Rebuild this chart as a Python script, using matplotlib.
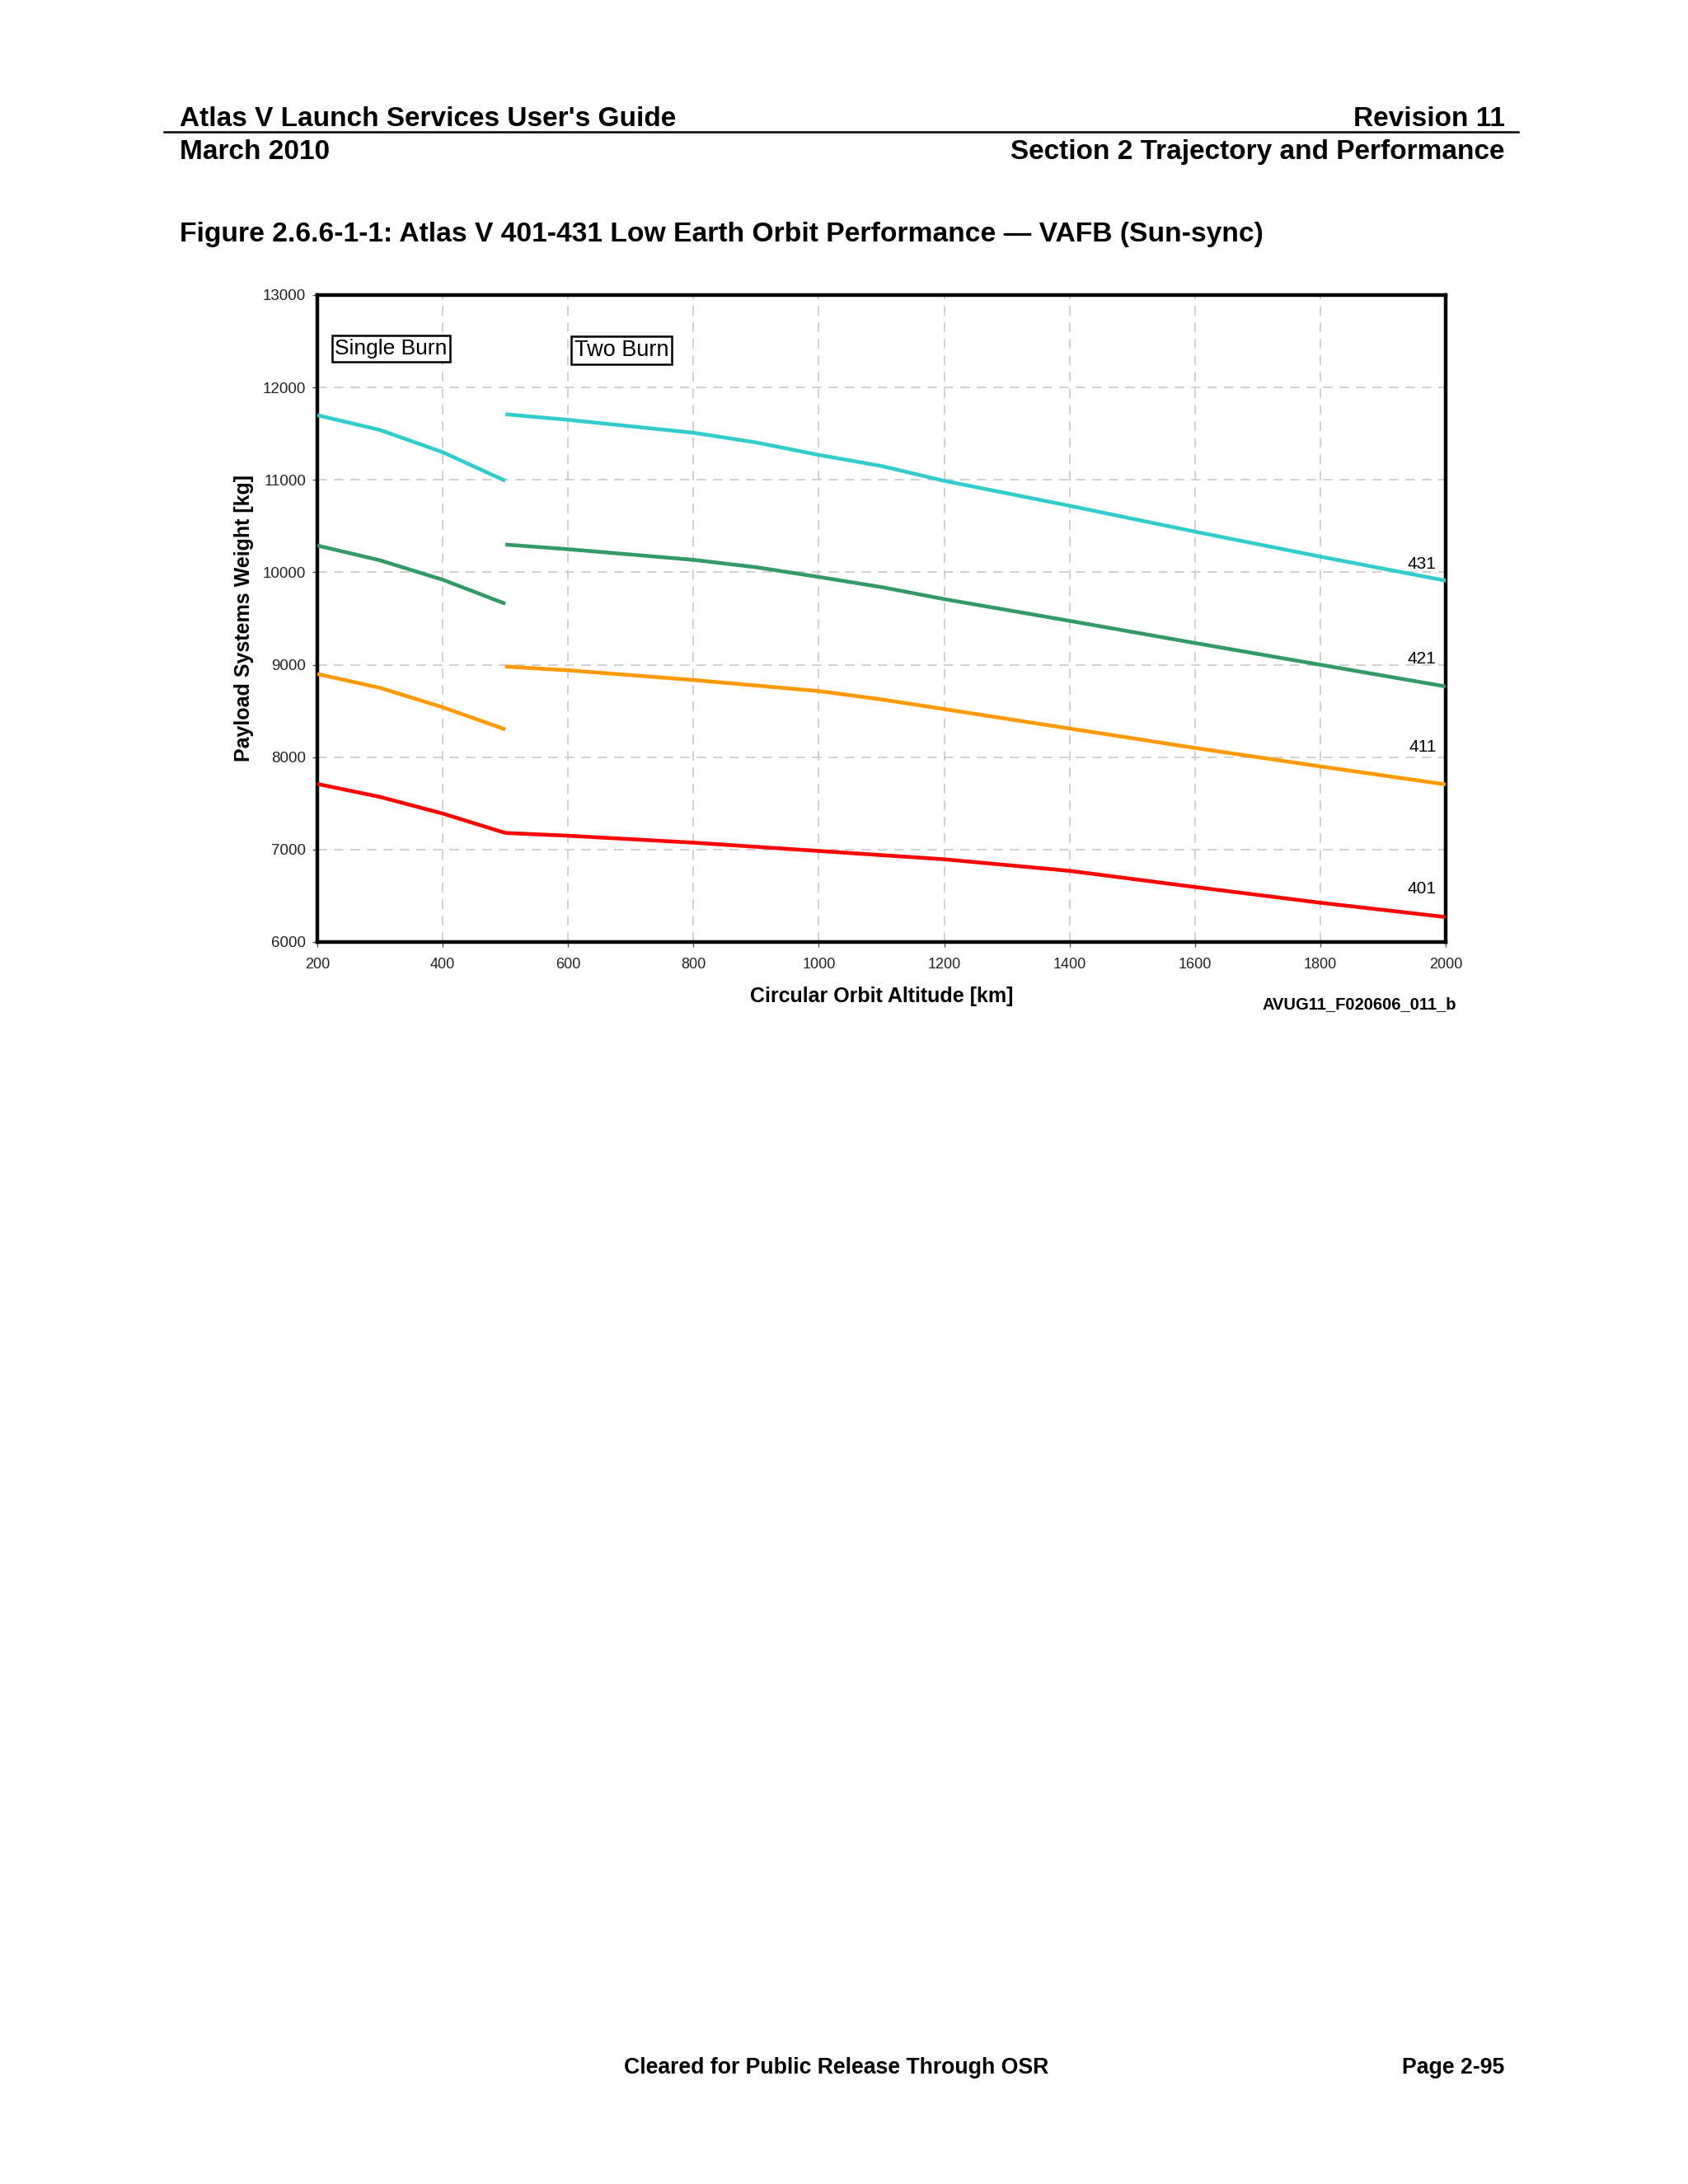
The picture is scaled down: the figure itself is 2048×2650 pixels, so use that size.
import matplotlib
matplotlib.use('Agg')
from matplotlib import pyplot as plt

plt.rcParams['font.family'] = ['Liberation Sans', 'DejaVu Sans']

# Single burn (200-500 km)
alt_single = [200, 300, 400, 500]
single_431 = [11700, 11540, 11300, 10990]
single_421 = [10290, 10130, 9920, 9660]
single_411 = [8900, 8750, 8540, 8300]
single_401 = [7710, 7570, 7390, 7180]

# Two burn (500-2000 km)
alt_two = [500, 600, 800, 900, 1000, 1100, 1200, 1400, 1600, 1800, 2000]
two_431 = [11710, 11650, 11510, 11405, 11270, 11150, 10990, 10720, 10440, 10170, 9910]
two_421 = [10300, 10250, 10135, 10055, 9950, 9840, 9710, 9475, 9235, 9000, 8765]
two_411 = [8980, 8940, 8835, 8775, 8715, 8625, 8520, 8310, 8100, 7900, 7705]
two_401 = [7180, 7150, 7075, 7030, 6985, 6940, 6895, 6770, 6595, 6425, 6270]

series = ['431', '421', '411', '401']
colors = {'431': '#33CCCC', '421': '#339966', '411': '#FF9900', '401': '#FF0000'}
single = {'431': single_431, '421': single_421, '411': single_411, '401': single_401}
two = {'431': two_431, '421': two_421, '411': two_411, '401': two_401}
label_y = {'431': 10085, '421': 9060, '411': 8105, '401': 6575}

W, H = 2048, 2650
fig = plt.figure(figsize=(W / 100, H / 100), dpi=100)
fig.patch.set_facecolor('white')

def fx(px):
    return px / W

def fy(py):
    return 1 - py / H

# page header
hdr = dict(fontsize=24, fontweight='bold', va='baseline')
fig.text(fx(218), fy(153), "Atlas V Launch Services User's Guide", ha='left', **hdr)
fig.text(fx(1826), fy(153), "Revision 11", ha='right', **hdr)
fig.text(fx(218), fy(193), "March 2010", ha='left', **hdr)
fig.text(fx(1826), fy(193), "Section 2 Trajectory and Performance", ha='right', **hdr)
fig.add_artist(plt.Line2D([fx(199), fx(1842)], [fy(160), fy(160)], color='black', lw=1.8))
fig.text(fx(218), fy(293),
         "Figure 2.6.6-1-1: Atlas V 401-431 Low Earth Orbit Performance \u2014 VAFB (Sun-sync)",
         ha='left', fontsize=24.2, fontweight='bold', va='baseline')

# chart
ax = fig.add_axes([fx(385), fy(1143), fx(1754) - fx(385), fy(358) - fy(1143)])
ax.set_xlim(200, 2000)
ax.set_ylim(6000, 13000)
ax.set_xticks(range(200, 2001, 200))
ax.set_yticks(range(6000, 13001, 1000))
ax.grid(True, color='#c8c8c8', lw=1.2, linestyle=(0, (7, 5)))
ax.set_axisbelow(True)
for sp in ax.spines.values():
    sp.set_linewidth(3.2)
    sp.set_color('black')
ax.tick_params(axis='both', direction='out', length=4, width=1, color='#555555',
               labelsize=13.5, labelcolor='#222222')
ax.tick_params(axis='x', pad=10, labelsize=13)
ax.tick_params(axis='y', pad=6)

for s in series:
    ax.plot(alt_single, single[s], color=colors[s], lw=3.3, solid_capstyle='butt', zorder=3)
    ax.plot(alt_two, two[s], color=colors[s], lw=3.3, solid_capstyle='butt', zorder=3)
    ax.text(1985, label_y[s], s, ha='right', va='center', fontsize=15, color='black')

box = dict(boxstyle='square,pad=0.14', fc='white', ec='black', lw=1.8)
ax.text(228, 12420, 'Single Burn', ha='left', va='center', fontsize=19, bbox=box, zorder=4)
ax.text(610, 12405, 'Two Burn', ha='left', va='center', fontsize=19.5, bbox=box, zorder=4)

fig.text(fx(296), fy(750), 'Payload Systems Weight [kg]', rotation=90, ha='center',
         va='center', fontsize=18, fontweight='bold')
fig.text(fx(1070), fy(1216), 'Circular Orbit Altitude [km]', ha='center', va='baseline',
         fontsize=18, fontweight='bold')
fig.text(fx(1767), fy(1224), 'AVUG11_F020606_011_b', ha='right', va='baseline',
         fontsize=14.5, fontweight='bold')

# footer
fig.text(fx(757), fy(2516), 'Cleared for Public Release Through OSR', ha='left',
         va='baseline', fontsize=19.2, fontweight='bold')
fig.text(fx(1825), fy(2516), 'Page 2-95', ha='right', va='baseline',
         fontsize=19.2, fontweight='bold')

fig.savefig('out.png', dpi=100, facecolor='white')
